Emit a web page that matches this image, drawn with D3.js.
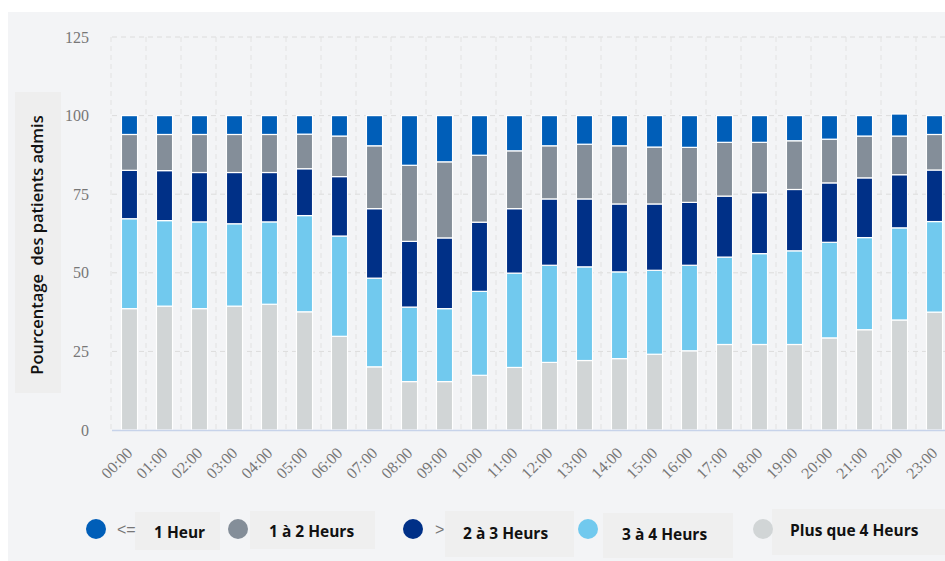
<!DOCTYPE html>
<html>
<head>
<meta charset="utf-8">
<script src="https://cdn.jsdelivr.net/npm/d3@7"></script>
<style>
  body { margin: 0; background: #fff; }
  svg { display: block; }
</style>
</head>
<body>
<div id="chart"></div>
<script>
// hours of admission
var hours = ["00:00","01:00","02:00","03:00","04:00","05:00","06:00","07:00","08:00","09:00","10:00","11:00",
             "12:00","13:00","14:00","15:00","16:00","17:00","18:00","19:00","20:00","21:00","22:00","23:00"];

// % of admitted patients per waiting time
var plus4h  = [38.6,39.4,38.6,39.4,40.0,37.6,29.8,20.1,15.4,15.4,17.4,19.9,21.5,22.1,22.7,24.1,25.2,27.2,27.2,27.2,29.3,31.9,35.0,37.5];
var h3to4   = [28.6,27.2,27.6,26.2,26.2,30.6,31.9,28.2,23.7,23.2,26.7,30.0,30.9,29.8,27.6,26.7,27.2,27.8,28.9,29.8,30.4,29.3,29.3,28.8];
var h2to3   = [15.4,15.9,15.7,16.3,15.7,14.9,18.9,22.1,20.9,22.5,22.0,20.5,21.1,21.6,21.6,21.1,20.0,19.4,19.4,19.5,18.9,19.0,16.9,16.4];
var h1to2   = [11.4,11.5,12.1,12.1,12.1,11.0,12.9,20.0,24.2,24.2,21.3,18.4,16.9,17.4,18.5,18.1,17.5,17.1,16.0,15.5,13.9,13.3,12.3,11.3];
var upTo1h  = [6.0,6.0,6.0,6.0,6.0,5.9,6.5,9.6,15.8,14.7,12.6,11.2,9.6,9.1,9.6,10.0,10.1,8.5,8.5,8.0,7.5,6.5,7.0,6.0];

var seriesKeys   = ["plus4", "h34", "h23", "h12", "le1"];   // bottom to top
var seriesLabels = ["Plus que 4 Heurs", "3 à 4 Heurs", "2 à 3 Heurs", "1 à 2 Heurs", "1 Heur"];
var seriesColors = ["#d1d5d6", "#71c9ee", "#003087", "#848e99", "#005eb8"];
var yTicks = [0, 25, 50, 75, 100, 125];

var W = 945, H = 561;
var margin = {left: 112, top: 37, bottom: 430};

var rows = hours.map(function(h, i) {
	return {hour: h, plus4: plus4h[i], h34: h3to4[i], h23: h2to3[i], h12: h1to2[i], le1: upTo1h[i]};
});

var svg = d3.select("#chart").append("svg")
	.attr("width", W)
	.attr("height", H);

// panel background
svg.append("rect")
	.attr("x", 8).attr("y", 12)
	.attr("width", W - 8).attr("height", H - 12)
	.attr("fill", "#f3f4f6");

var x = d3.scaleBand()
	.domain(hours)
	.range([margin.left, margin.left + 35 * hours.length])
	.paddingInner(0.54)
	.paddingOuter(0.27);

var y = d3.scaleLinear()
	.domain([0, 125])
	.range([margin.bottom, margin.top]);

// grid
var grid = svg.append("g");
grid.selectAll("line.h")
	.data(yTicks.filter(function(d) { return d > 0; }))
	.enter().append("line")
	.attr("class", "h")
	.attr("x1", margin.left).attr("x2", W)
	.attr("y1", function(d) { return y(d); })
	.attr("y2", function(d) { return y(d); })
	.attr("stroke", "#dcdcdc")
	.attr("stroke-dasharray", "5,4");

var step = x.step();
grid.selectAll("line.v")
	.data(d3.range(hours.length + 1))
	.enter().append("line")
	.attr("class", "v")
	.attr("x1", function(i) { return margin.left - 1 + i * step; })
	.attr("x2", function(i) { return margin.left - 1 + i * step; })
	.attr("y1", y(125)).attr("y2", margin.bottom)
	.attr("stroke", "#e2e2e2")
	.attr("stroke-dasharray", "5,4");

// y axis labels
var yAxis = svg.append("g")
	.attr("transform", "translate(" + 89 + ",0)")
	.call(d3.axisLeft(y).tickValues(yTicks).tickSize(0).tickPadding(0));
yAxis.select(".domain").remove();
yAxis.selectAll("text")
	.attr("font-family", "'Liberation Serif', 'DejaVu Serif', serif")
	.attr("font-size", 16)
	.attr("fill", "#777777");

// stacked bars
var stack = d3.stack().keys(seriesKeys);
var layers = stack(rows);

svg.append("g").selectAll("g")
	.data(layers)
	.enter().append("g")
	.attr("fill", function(d, i) { return seriesColors[i]; })
	.selectAll("rect")
	.data(function(d) { return d; })
	.enter().append("rect")
	.attr("x", function(d) { return x(d.data.hour); })
	.attr("width", x.bandwidth())
	.attr("y", function(d) { return y(d[1]); })
	.attr("height", function(d) { return y(d[0]) - y(d[1]); })
	.attr("stroke", "#ffffff")
	.attr("stroke-width", 1.2);

// baseline
svg.append("line")
	.attr("x1", margin.left).attr("x2", W)
	.attr("y1", margin.bottom + 0.5).attr("y2", margin.bottom + 0.5)
	.attr("stroke", "#c7d3ea")
	.attr("stroke-width", 1.5);

// x axis labels
var xAxis = svg.append("g")
	.attr("transform", "translate(0," + margin.bottom + ")")
	.call(d3.axisBottom(x).tickSize(0).tickPadding(0));
xAxis.select(".domain").remove();
xAxis.selectAll("text")
	.attr("font-family", "'Liberation Serif', 'DejaVu Serif', serif")
	.attr("font-size", 16)
	.attr("fill", "#777777")
	.attr("text-anchor", "end")
	.attr("dy", 0)
	.attr("y", 0)
	.attr("transform", "translate(4,24) rotate(-45)");

// y axis title
svg.append("rect")
	.attr("x", 15).attr("y", 92)
	.attr("width", 46).attr("height", 301)
	.attr("fill", "#eeeeee");
svg.append("text")
	.attr("transform", "translate(43,245) rotate(-90)")
	.attr("text-anchor", "middle")
	.attr("font-family", "'Open Sans', sans-serif")
	.attr("font-weight", 600)
	.attr("font-size", 16.5)
	.attr("fill", "#111")
	.attr("xml:space", "preserve")
	.text("Pourcentage  des patients admis");

// legend (top series first)
var legendItems = [
	{s: 4, cx: 96,  prefix: "<=", px: 117, box: [135, 512, 85, 38],  tx: 154, ty: 538},
	{s: 3, cx: 238, prefix: "",   px: 0,   box: [250, 511, 125, 38], tx: 269, ty: 537},
	{s: 2, cx: 413, prefix: ">",  px: 435, box: [445, 511, 129, 46], tx: 463, ty: 539},
	{s: 1, cx: 588, prefix: "",   px: 0,   box: [603, 513, 130, 45], tx: 622, ty: 540},
	{s: 0, cx: 763, prefix: "",   px: 0,   box: [772, 509, 173, 46], tx: 790, ty: 536}
];

var legend = svg.append("g");
var li = legend.selectAll("g")
	.data(legendItems)
	.enter().append("g");

li.append("rect")
	.attr("x", function(d) { return d.box[0]; })
	.attr("y", function(d) { return d.box[1]; })
	.attr("width", function(d) { return d.box[2]; })
	.attr("height", function(d) { return d.box[3]; })
	.attr("fill", "#efefef");

li.append("circle")
	.attr("cx", function(d) { return d.cx; })
	.attr("cy", 529)
	.attr("r", 10)
	.attr("fill", function(d) { return seriesColors[d.s]; });

li.filter(function(d) { return d.prefix; })
	.append("text")
	.attr("x", function(d) { return d.px; })
	.attr("y", 535)
	.attr("font-family", "'Liberation Sans', sans-serif")
	.attr("font-size", 16)
	.attr("fill", "#777")
	.text(function(d) { return d.prefix; });

li.append("text")
	.attr("x", function(d) { return d.tx; })
	.attr("y", function(d) { return d.ty; })
	.attr("font-family", "'Open Sans', sans-serif")
	.attr("font-weight", 700)
	.attr("font-size", 15.5)
	.attr("fill", "#111")
	.text(function(d) { return seriesLabels[d.s]; });
</script>
</body>
</html>
